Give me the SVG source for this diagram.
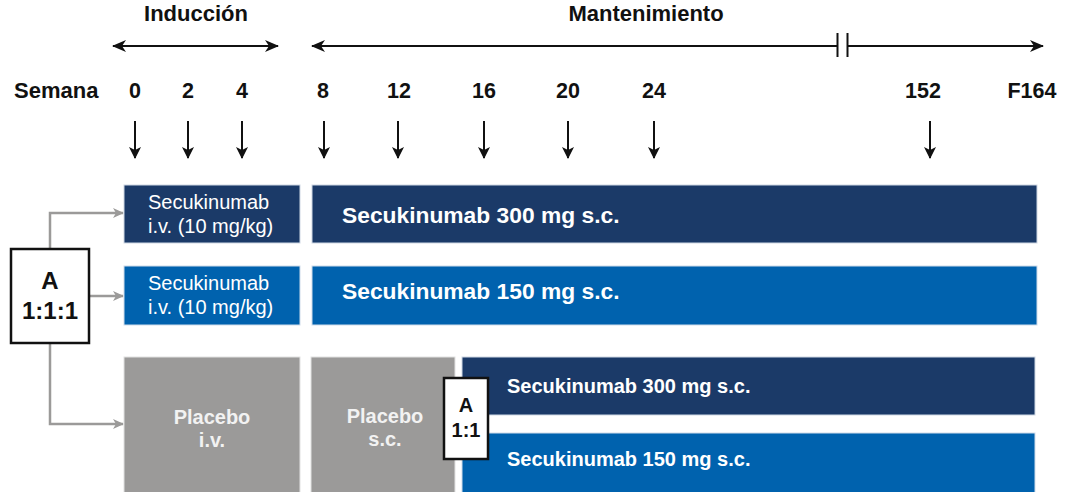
<svg xmlns="http://www.w3.org/2000/svg" width="1068" height="492" viewBox="0 0 1068 492">
<style>
text{font-family:"Liberation Sans",Arial,sans-serif}
.hd{font-size:22px;font-weight:bold;fill:#111}
.wk{font-size:21.5px;font-weight:bold;fill:#111;text-anchor:middle}
.sm{font-size:20px;fill:#fff}
.big{font-size:22.8px;font-weight:bold;fill:#fff}
.mid{font-size:20px;font-weight:bold;fill:#fff}
.pl{font-size:20px;font-weight:bold;fill:#f2f2f2;text-anchor:middle}
.rb{font-weight:bold;fill:#111;text-anchor:middle}
.navy{fill:#1b3a68;stroke:#cfd8e4;stroke-width:1}
.blue{fill:#0062ae;stroke:#cfdcea;stroke-width:1}
.gray{fill:#9b9a99;stroke:#e2e2e2;stroke-width:1}
.rnd{fill:#fff;stroke:#111;stroke-width:2.5}
.bl{stroke:#111;stroke-width:2;fill:none}
.gl{stroke:#9b9a99;stroke-width:2.5;fill:none}
</style>
<defs>
<marker id="ah" viewBox="0 0 14 12" refX="13" refY="6" markerWidth="14" markerHeight="12" markerUnits="userSpaceOnUse" orient="auto-start-reverse"><path d="M0,0 L14,6 L0,12 L4,6 z" fill="#111"/></marker>
<marker id="ad" viewBox="0 0 12 12" refX="11" refY="6" markerWidth="12" markerHeight="12" markerUnits="userSpaceOnUse" orient="auto"><path d="M0,0 L12,6 L0,12 L3,6 z" fill="#111"/></marker>
<marker id="ag" viewBox="0 0 11 10" refX="10" refY="5" markerWidth="11" markerHeight="10" markerUnits="userSpaceOnUse" orient="auto"><path d="M0,0 L11,5 L0,10 L3,5 z" fill="#9b9a99"/></marker>
</defs>

<g id="timeline">
<text class="hd" x="196" y="21" text-anchor="middle">Inducción</text>
<text class="hd" x="646" y="21" text-anchor="middle">Mantenimiento</text>
<text class="hd" x="14" y="98">Semana</text>
<text class="wk" x="135" y="98">0</text>
<text class="wk" x="188" y="98">2</text>
<text class="wk" x="242" y="98">4</text>
<text class="wk" x="323" y="98">8</text>
<text class="wk" x="399" y="98">12</text>
<text class="wk" x="484" y="98">16</text>
<text class="wk" x="568" y="98">20</text>
<text class="wk" x="654" y="98">24</text>
<text class="wk" x="923" y="98">152</text>
<text class="wk" x="1032" y="98">F164</text>
</g>

<g id="connectors">
<line class="bl" x1="113" y1="46" x2="278" y2="46" marker-start="url(#ah)" marker-end="url(#ah)"/>
<line class="bl" x1="312" y1="46" x2="837" y2="46" marker-start="url(#ah)"/>
<line class="bl" x1="848" y1="46" x2="1043" y2="46" marker-end="url(#ah)"/>
<line class="bl" x1="837.5" y1="33" x2="837.5" y2="57"/>
<line class="bl" x1="847.5" y1="33" x2="847.5" y2="57"/>
<line class="bl" x1="135" y1="121" x2="135" y2="158" marker-end="url(#ad)"/>
<line class="bl" x1="188" y1="121" x2="188" y2="158" marker-end="url(#ad)"/>
<line class="bl" x1="242" y1="121" x2="242" y2="158" marker-end="url(#ad)"/>
<line class="bl" x1="324" y1="121" x2="324" y2="158" marker-end="url(#ad)"/>
<line class="bl" x1="398" y1="121" x2="398" y2="158" marker-end="url(#ad)"/>
<line class="bl" x1="484" y1="121" x2="484" y2="158" marker-end="url(#ad)"/>
<line class="bl" x1="568" y1="121" x2="568" y2="158" marker-end="url(#ad)"/>
<line class="bl" x1="654" y1="121" x2="654" y2="158" marker-end="url(#ad)"/>
<line class="bl" x1="930" y1="121" x2="930" y2="158" marker-end="url(#ad)"/>
<polyline class="gl" points="50,249 50,213 123,213" marker-end="url(#ag)"/>
<line class="gl" x1="89" y1="296" x2="123" y2="296" marker-end="url(#ag)"/>
<polyline class="gl" points="50,343 50,424 123,424" marker-end="url(#ag)"/>
</g>

<g id="rand1">
<rect class="rnd" x="11" y="249" width="78" height="94"/>
<text class="rb" x="50" y="289" font-size="24">A</text>
<text class="rb" x="50" y="319" font-size="24">1:1:1</text>
</g>

<g id="ind300">
<rect class="navy" x="124" y="185" width="176" height="58"/>
<text class="sm" x="148" y="209">Secukinumab</text>
<text class="sm" x="148" y="233">i.v. (10 mg/kg)</text>
</g>
<g id="ind150">
<rect class="blue" x="124" y="266" width="176" height="59"/>
<text class="sm" x="148" y="290">Secukinumab</text>
<text class="sm" x="148" y="314">i.v. (10 mg/kg)</text>
</g>
<g id="indpbo">
<rect class="gray" x="124" y="357" width="176" height="136"/>
<text class="pl" x="212" y="424">Placebo</text>
<text class="pl" x="212" y="447">i.v.</text>
</g>

<g id="main300">
<rect class="navy" x="312" y="185" width="725" height="58"/>
<text class="big" x="342" y="223">Secukinumab 300 mg s.c.</text>
</g>
<g id="main150">
<rect class="blue" x="312" y="266" width="725" height="59"/>
<text class="big" x="342" y="299">Secukinumab 150 mg s.c.</text>
</g>
<g id="mainpbo">
<rect class="gray" x="311" y="357" width="144" height="136"/>
<text class="pl" x="385" y="423">Placebo</text>
<text class="pl" x="385" y="446">s.c.</text>
</g>
<g id="sw300">
<rect class="navy" x="462" y="357" width="573" height="58"/>
<text class="mid" x="507" y="393">Secukinumab 300 mg s.c.</text>
</g>
<g id="sw150">
<rect class="blue" x="462" y="433" width="573" height="60"/>
<text class="mid" x="507" y="466">Secukinumab 150 mg s.c.</text>
</g>
<g id="rand2">
<rect class="rnd" x="444" y="378" width="44" height="81"/>
<text class="rb" x="466" y="412" font-size="20">A</text>
<text class="rb" x="466" y="437" font-size="20">1:1</text>
</g>
</svg>
